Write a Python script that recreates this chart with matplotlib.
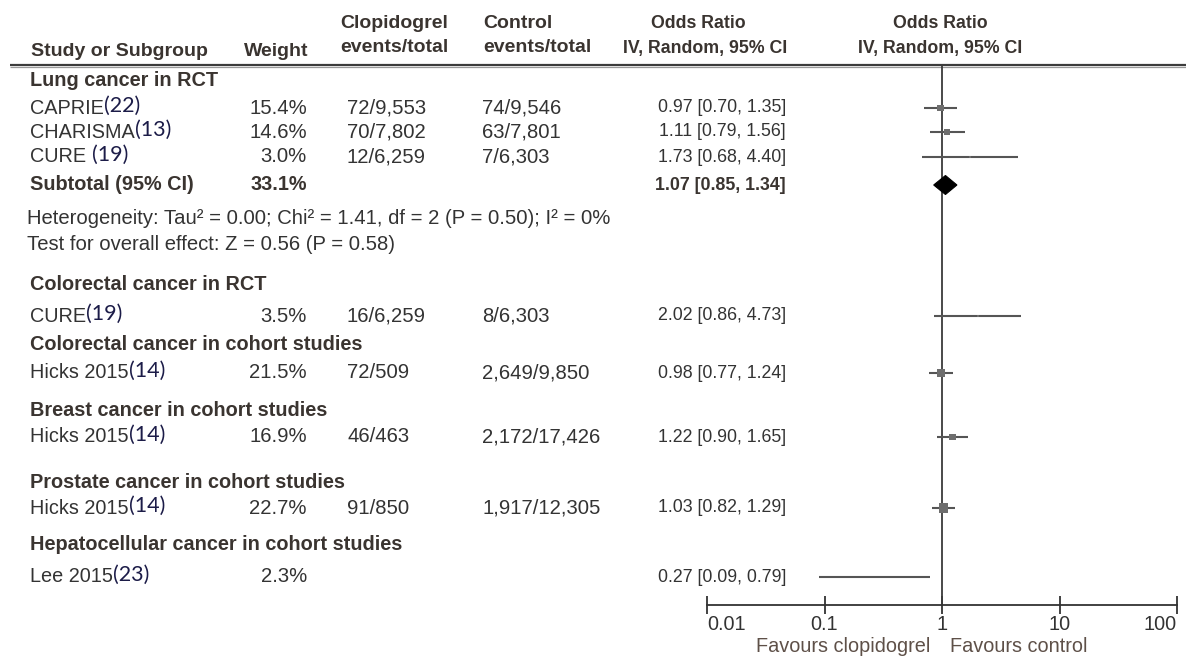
import matplotlib
matplotlib.use("Agg")
import matplotlib.pyplot as plt
from matplotlib.patches import Polygon

# ---- data -----------------------------------------------------------------
subgroups = [
    "Lung cancer in RCT",
    "Colorectal cancer in RCT",
    "Colorectal cancer in cohort studies",
    "Breast cancer in cohort studies",
    "Prostate cancer in cohort studies",
    "Hepatocellular cancer in cohort studies",
]
studies = ["CAPRIE", "CHARISMA", "CURE ", "CURE", "Hicks 2015", "Hicks 2015", "Hicks 2015", "Lee 2015"]
refs = ["(22)", "(13)", "(19)", "(19)", "(14)", "(14)", "(14)", "(23)"]
weights = [15.4, 14.6, 3.0, 3.5, 21.5, 16.9, 22.7, 2.3]
clop_events = ["72/9,553", "70/7,802", "12/6,259", "16/6,259", "72/509", "46/463", "91/850", ""]
ctrl_events = ["74/9,546", "63/7,801", "7/6,303", "8/6,303", "2,649/9,850", "2,172/17,426", "1,917/12,305", ""]
odds = [0.97, 1.11, 1.73, 2.02, 0.98, 1.22, 1.03, 0.27]
lower = [0.70, 0.79, 0.68, 0.86, 0.77, 0.90, 0.82, 0.09]
upper = [1.35, 1.56, 4.40, 4.73, 1.24, 1.65, 1.29, 0.79]

subtotal_weight = 33.1
subtotal_or = 1.07
subtotal_lo = 0.85
subtotal_hi = 1.34
heterogeneity = "Heterogeneity: Tau\u00b2 = 0.00; Chi\u00b2 = 1.41, df = 2 (P = 0.50); I\u00b2 = 0%"
overall_test = "Test for overall effect: Z = 0.56 (P = 0.58)"

axis_ticks = [0.01, 0.1, 1, 10, 100]
axis_labels = ["0.01", "0.1", "1", "10", "100"]

# ---- layout (pixel rows) ---------------------------------------------------
W, H = 1186, 657
study_y = [108, 132, 157, 316, 373, 437, 508, 577]
subgroup_y = [80, 284, 345, 410, 482, 545]
subtotal_y = 185
het_y, test_y = 219, 244
axis_y = 605

FONT = "Liberation Sans"
FS_L = 14.3      # table text on the left
FS_N = 14.6      # numbers and statistics lines
FS_LB = 14.0     # bold headings on the left
FS_R = 12.8      # estimate column
TXT = "#333333"
HDR = "#3a3430"
REF = "#1c1c48"

fig = plt.figure(figsize=(W / 100, H / 100), dpi=100)
fig.patch.set_facecolor("white")
bg = fig.add_axes([0, 0, 1, 1])
bg.set_xlim(0, W)
bg.set_ylim(H, 0)
bg.axis("off")


def txt(x, y, s, ha="left", bold=False, color=TXT, size=FS_L, family=FONT):
    return bg.text(x, y, s, ha=ha, va="center", fontsize=size, family=family,
                   fontweight="bold" if bold else "normal", color=color)


# column headers
txt(31, 52, "Study or Subgroup", bold=True, color=HDR, size=FS_LB)
txt(308, 52, "Weight", ha="right", bold=True, color=HDR, size=FS_LB)
txt(340, 23, "Clopidogrel", bold=True, color=HDR, size=FS_LB)
txt(340, 48, "events/total", bold=True, color=HDR, size=FS_LB)
txt(483, 23, "Control", bold=True, color=HDR, size=FS_LB)
txt(483, 48, "events/total", bold=True, color=HDR, size=FS_LB)
txt(698, 24, "Odds Ratio", ha="center", bold=True, color=HDR, size=FS_R)
txt(705, 48, "IV, Random, 95% CI", ha="center", bold=True, color=HDR, size=FS_R)
txt(940, 24, "Odds Ratio", ha="center", bold=True, color=HDR, size=FS_R)
txt(940, 48, "IV, Random, 95% CI", ha="center", bold=True, color=HDR, size=FS_R)

bg.plot([10, W], [64.5, 64.5], color="#3c3c3c", lw=1.6, solid_capstyle="butt")
bg.plot([10, W], [66.8, 66.8], color="#9a9a9a", lw=0.9, solid_capstyle="butt")

# subgroup headings
for name, y in zip(subgroups, subgroup_y):
    txt(30, y, name, bold=True, color=HDR)

renderer = fig.canvas.get_renderer()
inv = bg.transData.inverted()

# study rows
for i, y in enumerate(study_y):
    t = txt(30, y, studies[i])
    bb = t.get_window_extent(renderer=renderer)
    x_end = inv.transform((bb.x1, bb.y0))[0]
    txt(x_end, y - 2, refs[i], color=REF, size=15.5, family="Lato")
    txt(307, y, f"{weights[i]:.1f}%", ha="right", size=FS_N)
    if clop_events[i]:
        txt(347, y, clop_events[i], size=FS_N)
    if ctrl_events[i]:
        txt(482, y, ctrl_events[i], size=FS_N)
    txt(786, y, f"{odds[i]:.2f} [{lower[i]:.2f}, {upper[i]:.2f}]", ha="right", size=FS_R)

# subtotal + statistics
txt(30, subtotal_y, "Subtotal (95% CI)", bold=True, color=HDR)
txt(307, subtotal_y, f"{subtotal_weight:.1f}%", ha="right", bold=True, color=HDR)
txt(786, subtotal_y, f"{subtotal_or:.2f} [{subtotal_lo:.2f}, {subtotal_hi:.2f}]",
    ha="right", bold=True, color=HDR, size=FS_R)
txt(27, het_y, heterogeneity, size=FS_N)
txt(27, test_y, overall_test, size=FS_N)

# ---- forest panel ----------------------------------------------------------
fx = fig.add_axes([707 / W, 0, 470 / W, 1])
fx.set_xscale("log")
fx.set_xlim(axis_ticks[0], axis_ticks[-1])
fx.set_ylim(H, 0)
fx.patch.set_visible(False)
for side in ("left", "right", "top"):
    fx.spines[side].set_visible(False)
fx.spines["bottom"].set_position(("data", axis_y))
fx.spines["bottom"].set_color("#333333")
fx.spines["bottom"].set_linewidth(1.3)
fx.set_yticks([])
fx.set_xticks(axis_ticks)
labels = fx.set_xticklabels(axis_labels, family=FONT, fontsize=14.3, color=TXT)
labels[0].set_ha("left")
labels[-1].set_ha("right")
fx.minorticks_off()
fx.tick_params(axis="x", which="major", direction="inout", length=13,
               width=1.3, color="#333333", pad=1)

fx.vlines(1, 66, axis_y, color="#3a3a3a", lw=1.3)

for i, y in enumerate(study_y):
    fx.hlines(y, lower[i], upper[i], color="#555555", lw=1.5)
    side = 0.4 * weights[i] * 0.72
    fx.scatter([odds[i]], [y], marker="s", s=side ** 2, color="#6e6e6e",
               edgecolors="none", zorder=3)

half = 9.5
fx.add_patch(Polygon([(subtotal_lo, subtotal_y), (subtotal_or, subtotal_y - half),
                      (subtotal_hi, subtotal_y), (subtotal_or, subtotal_y + half)],
                     closed=True, facecolor="black", edgecolor="black", lw=0.8, zorder=4))

txt(930, 647, "Favours clopidogrel", ha="right", color="#5e5048", size=14.3)
txt(950, 647, "Favours control", color="#5e5048", size=14.3)

fig.savefig("out.png", dpi=100, facecolor="white")
